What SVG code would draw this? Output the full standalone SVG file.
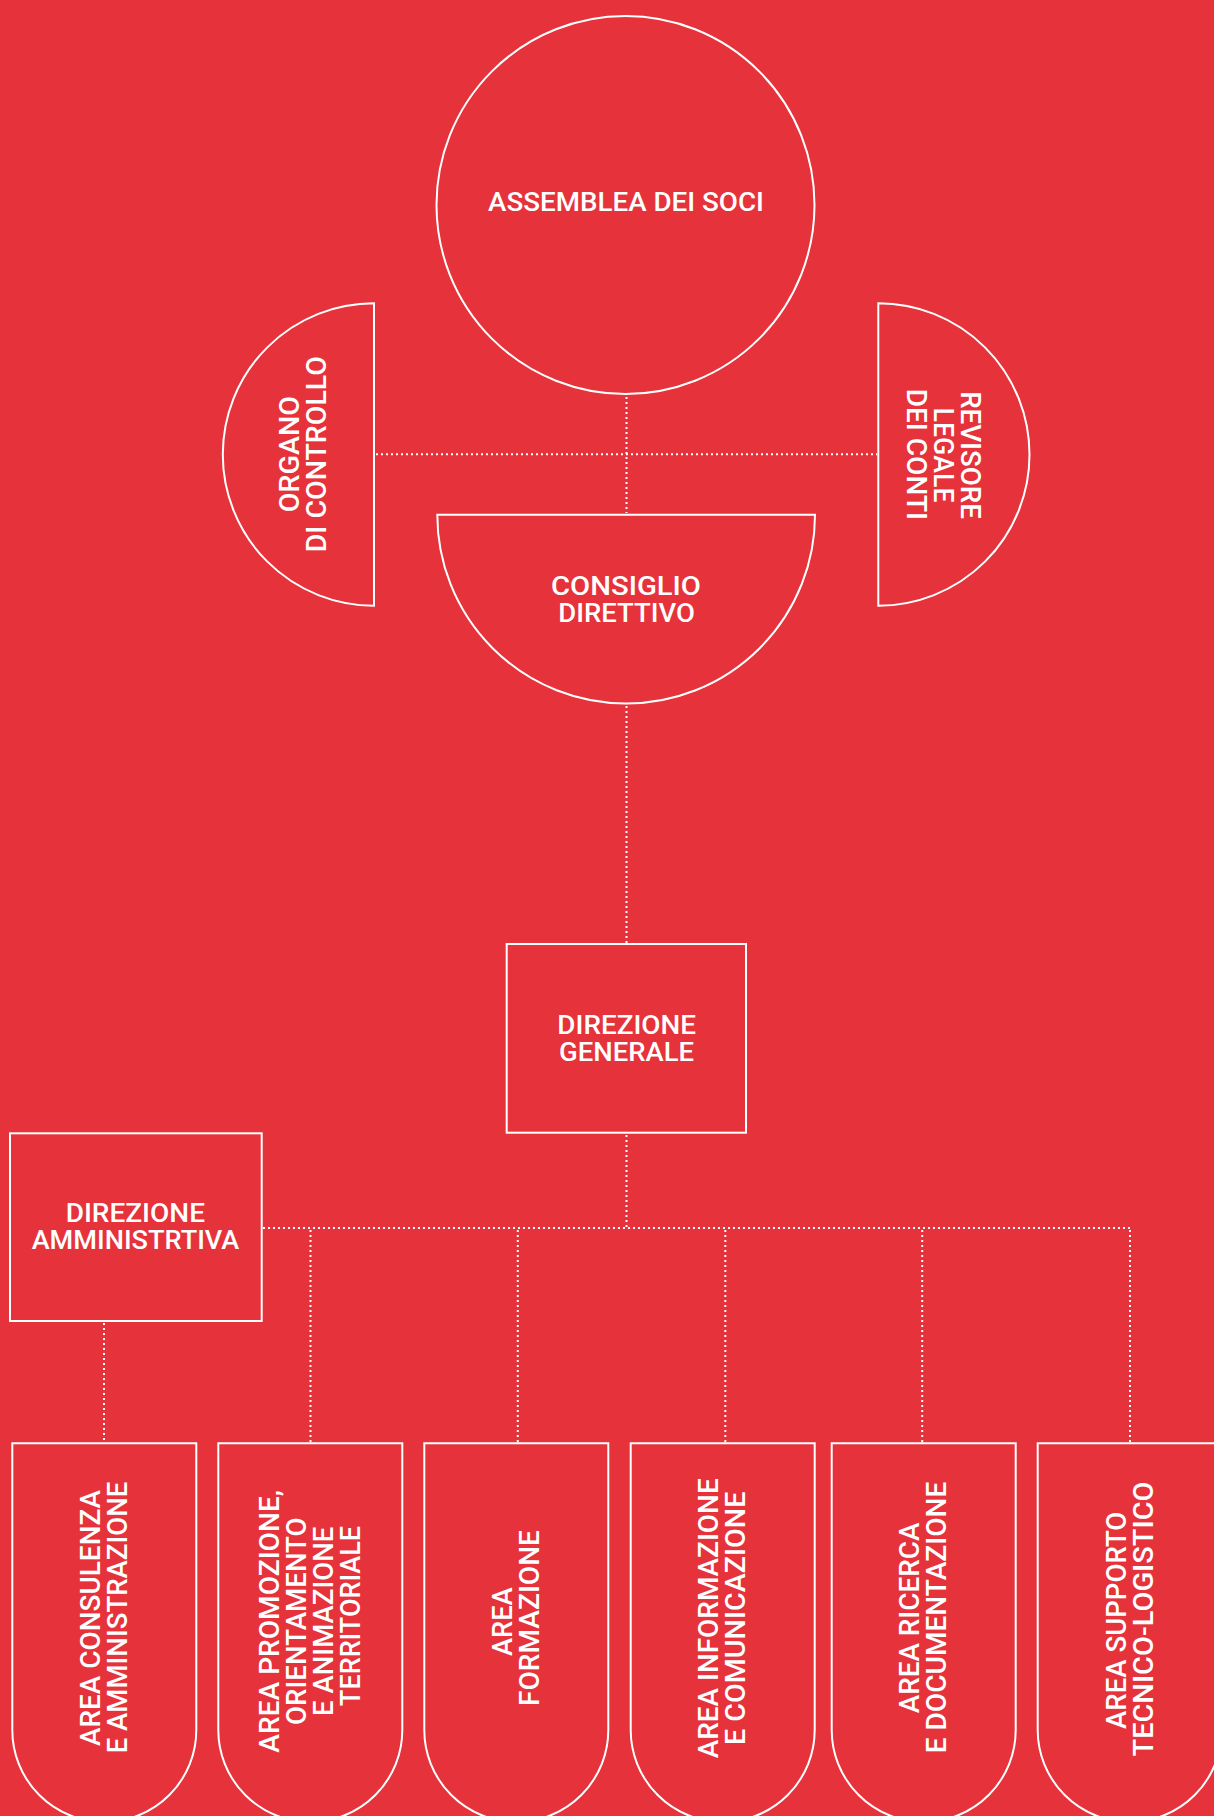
<svg xmlns="http://www.w3.org/2000/svg" width="1214" height="1816" viewBox="0 0 1214 1816">
  <style>
    .shape { fill: none; stroke: #ffffff; stroke-width: 2; }
    .conn { fill: none; stroke: #ffffff; stroke-width: 2; stroke-dasharray: 2 3; }
    .lbl { fill: #ffffff; font-family: Roboto, "Liberation Sans", Arial, sans-serif; font-weight: 500; font-size: 25px; text-anchor: middle; }
    .vlbl { fill: #ffffff; font-family: Roboto, "Liberation Sans", Arial, sans-serif; font-weight: 500; font-size: 28px; text-anchor: middle; }
  </style>
  <rect x="0" y="0" width="1214" height="1816" fill="#E6323A"/>

  <g id="connectors">
    <line class="conn" x1="626.5" y1="397" x2="626.5" y2="513"/>
    <line class="conn" x1="376" y1="454.3" x2="877" y2="454.3"/>
    <line class="conn" x1="626.5" y1="706" x2="626.5" y2="943"/>
    <line class="conn" x1="626.5" y1="1135" x2="626.5" y2="1228"/>
    <line class="conn" x1="263" y1="1228" x2="1131" y2="1228"/>
    <line class="conn" x1="310.5" y1="1230" x2="310.5" y2="1442"/>
    <line class="conn" x1="517.8" y1="1230" x2="517.8" y2="1442"/>
    <line class="conn" x1="725.3" y1="1230" x2="725.3" y2="1442"/>
    <line class="conn" x1="922.2" y1="1230" x2="922.2" y2="1442"/>
    <line class="conn" x1="1130" y1="1230" x2="1130" y2="1442"/>
    <line class="conn" x1="104" y1="1323" x2="104" y2="1442"/>
  </g>

  <g id="assemblea">
    <circle class="shape" cx="625.5" cy="205" r="189"/>
    <text class="lbl" x="626" y="210.7" textLength="276" lengthAdjust="spacingAndGlyphs">ASSEMBLEA DEI SOCI</text>
  </g>

  <g id="organo">
    <path class="shape" d="M374 303.3 V605.7 A151.2 151.2 0 0 1 374 303.3 Z"/>
    <text class="vlbl" transform="translate(299 454.2) rotate(-90)" textLength="116.3" lengthAdjust="spacingAndGlyphs">ORGANO</text>
    <text class="vlbl" transform="translate(326 454.2) rotate(-90)" textLength="196.3" lengthAdjust="spacingAndGlyphs">DI CONTROLLO</text>
  </g>

  <g id="revisore">
    <path class="shape" d="M878.3 303.3 A151.2 151.2 0 0 1 878.3 605.7 Z"/>
    <text class="vlbl" transform="translate(961 455) rotate(90)" textLength="127.7" lengthAdjust="spacingAndGlyphs">REVISORE</text>
    <text class="vlbl" transform="translate(934.3 455) rotate(90)" textLength="95" lengthAdjust="spacingAndGlyphs">LEGALE</text>
    <text class="vlbl" transform="translate(907.3 454.3) rotate(90)" textLength="131.3" lengthAdjust="spacingAndGlyphs">DEI CONTI</text>
  </g>

  <g id="consiglio">
    <path class="shape" d="M437.3 514.7 H815 A188.85 188.85 0 0 1 437.3 514.7 Z"/>
    <text class="lbl" x="626" y="595" textLength="150" lengthAdjust="spacingAndGlyphs">CONSIGLIO</text>
    <text class="lbl" x="626.7" y="622.3" textLength="136.7" lengthAdjust="spacingAndGlyphs">DIRETTIVO</text>
  </g>

  <g id="direzione-generale">
    <rect class="shape" x="506.7" y="944" width="239.3" height="188.7"/>
    <text class="lbl" x="626.7" y="1034.3" textLength="138.7" lengthAdjust="spacingAndGlyphs">DIREZIONE</text>
    <text class="lbl" x="626.5" y="1060.7" textLength="135" lengthAdjust="spacingAndGlyphs">GENERALE</text>
  </g>

  <g id="direzione-amministrativa">
    <rect class="shape" x="10" y="1133.3" width="251.7" height="187.7"/>
    <text class="lbl" x="135.3" y="1221.7" textLength="139.3" lengthAdjust="spacingAndGlyphs">DIREZIONE</text>
    <text class="lbl" x="135.5" y="1249.3" textLength="207.7" lengthAdjust="spacingAndGlyphs">AMMINISTRTIVA</text>
  </g>

  <g id="area-consulenza">
    <path class="shape" d="M12.3 1443.3 H196.3 V1730 A92 92 0 0 1 12.3 1730 Z"/>
    <text class="vlbl" transform="translate(100 1618) rotate(-90)" textLength="256" lengthAdjust="spacingAndGlyphs">AREA CONSULENZA</text>
    <text class="vlbl" transform="translate(126.7 1617.5) rotate(-90)" textLength="271.7" lengthAdjust="spacingAndGlyphs">E AMMINISTRAZIONE</text>
  </g>

  <g id="area-promozione">
    <path class="shape" d="M218.3 1443.3 H402.3 V1730 A92 92 0 0 1 218.3 1730 Z"/>
    <text class="vlbl" transform="translate(279.3 1621.3) rotate(-90)" textLength="262.7" lengthAdjust="spacingAndGlyphs">AREA PROMOZIONE,</text>
    <text class="vlbl" transform="translate(306 1621.2) rotate(-90)" textLength="207.7" lengthAdjust="spacingAndGlyphs">ORIENTAMENTO</text>
    <text class="vlbl" transform="translate(332.7 1621.3) rotate(-90)" textLength="189.3" lengthAdjust="spacingAndGlyphs">E ANIMAZIONE</text>
    <text class="vlbl" transform="translate(360 1616) rotate(-90)" textLength="180" lengthAdjust="spacingAndGlyphs">TERRITORIALE</text>
  </g>

  <g id="area-formazione">
    <path class="shape" d="M424.3 1443.3 H608.3 V1730 A92 92 0 0 1 424.3 1730 Z"/>
    <text class="vlbl" transform="translate(511.7 1621.7) rotate(-90)" textLength="68.7" lengthAdjust="spacingAndGlyphs">AREA</text>
    <text class="vlbl" transform="translate(539 1618) rotate(-90)" textLength="176" lengthAdjust="spacingAndGlyphs">FORMAZIONE</text>
  </g>

  <g id="area-informazione">
    <path class="shape" d="M630.7 1443.3 H814.7 V1730 A92 92 0 0 1 630.7 1730 Z"/>
    <text class="vlbl" transform="translate(718.3 1618.3) rotate(-90)" textLength="280" lengthAdjust="spacingAndGlyphs">AREA INFORMAZIONE</text>
    <text class="vlbl" transform="translate(745 1618.3) rotate(-90)" textLength="253.3" lengthAdjust="spacingAndGlyphs">E COMUNICAZIONE</text>
  </g>

  <g id="area-ricerca">
    <path class="shape" d="M831.7 1443.3 H1015.7 V1730 A92 92 0 0 1 831.7 1730 Z"/>
    <text class="vlbl" transform="translate(919.3 1618) rotate(-90)" textLength="190.7" lengthAdjust="spacingAndGlyphs">AREA RICERCA</text>
    <text class="vlbl" transform="translate(946 1617.5) rotate(-90)" textLength="271.7" lengthAdjust="spacingAndGlyphs">E DOCUMENTAZIONE</text>
  </g>

  <g id="area-supporto">
    <path class="shape" d="M1037.7 1443.3 H1221.7 V1730 A92 92 0 0 1 1037.7 1730 Z"/>
    <text class="vlbl" transform="translate(1126 1620.3) rotate(-90)" textLength="217.3" lengthAdjust="spacingAndGlyphs">AREA SUPPORTO</text>
    <text class="vlbl" transform="translate(1152.7 1619) rotate(-90)" textLength="275" lengthAdjust="spacingAndGlyphs">TECNICO-LOGISTICO</text>
  </g>
</svg>
